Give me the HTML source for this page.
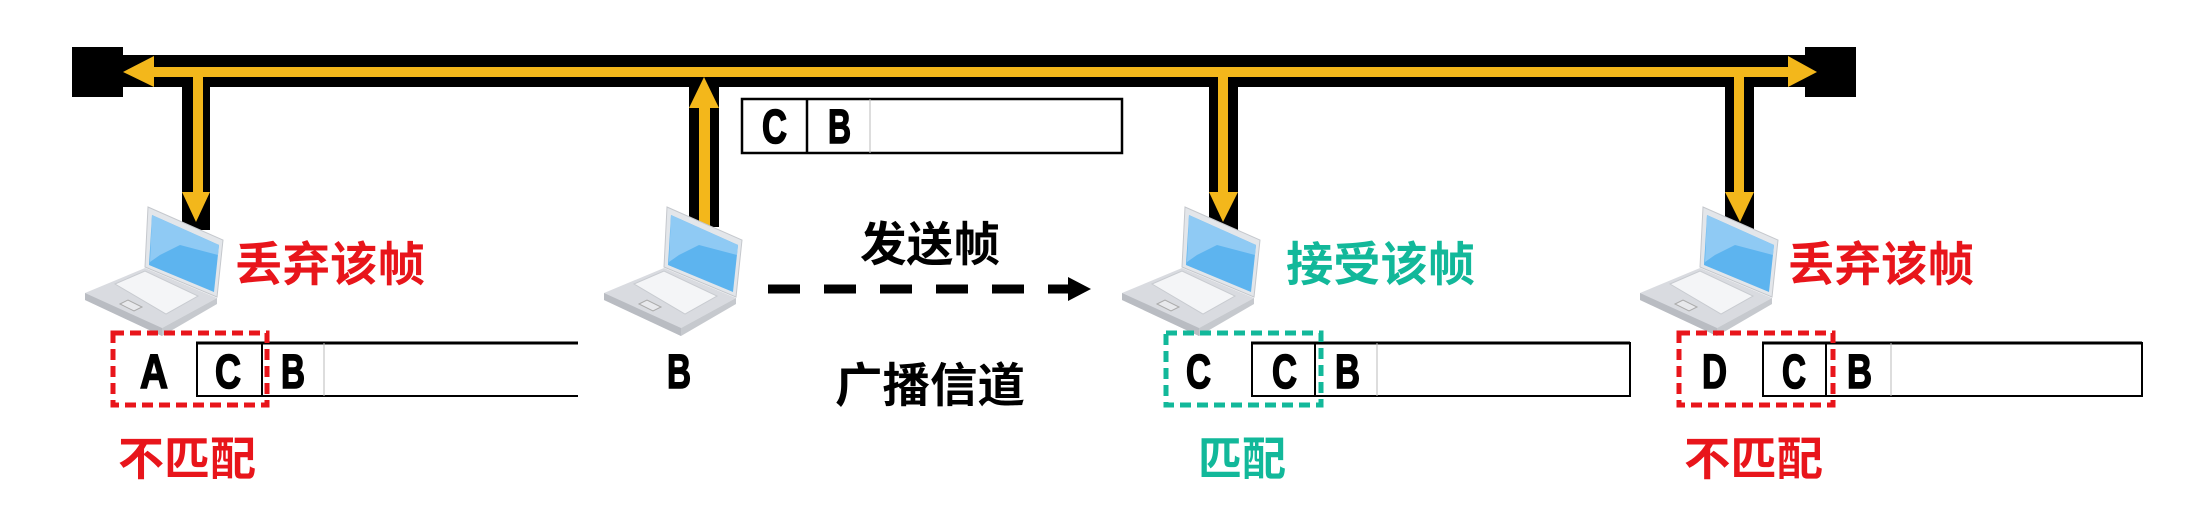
<!DOCTYPE html>
<html><head><meta charset="utf-8"><style>
html,body{margin:0;padding:0;background:#fff;}
svg{display:block;}
.l{font-family:"Liberation Sans",sans-serif;font-weight:bold;font-size:48px;fill:#000;stroke:#000;stroke-width:1.6;}
.cj{font-family:"Liberation Sans","Noto Sans CJK SC",sans-serif;font-weight:bold;}
</style></head><body>
<svg width="2204" height="524" viewBox="0 0 2204 524" xmlns="http://www.w3.org/2000/svg">
<defs>
<g id="lap">
  <polygon points="5,93 65,68 137,98 82,128 82,136 5,100" fill="#d9dbe0"/>
  <polygon points="5,93 82,128 82,136 5,100" fill="#b9bcc2"/>
  <polygon points="82,128 137,98 137,104 82,136" fill="#c6c9ce"/>
  <polygon points="35,84 65,71 118,96 86,114" fill="#f4f5f7" stroke="#c8cbd0" stroke-width="1"/>
  <polygon points="40,104 48,100 62,107 54,111" fill="#e8e9ec" stroke="#aaa" stroke-width="1"/>
  <polygon points="68,7 143,40 137,97 65,67" fill="#e3e6ea" stroke="#c5c8cd" stroke-width="1"/>
  <polygon points="72,15 139,45 134,92 69,65" fill="#5db4ef"/>
  <polygon points="72,15 139,45 138,55 100,45 80,55 70,62" fill="#8fcaf4"/>
</g>
</defs>

<rect x="72" y="47" width="51" height="50" fill="#000"/>
<rect x="1805" y="47" width="51" height="50" fill="#000"/>
<rect x="123" y="55" width="1682" height="32" fill="#000"/>
<rect x="154" y="67" width="1634" height="10" fill="#F3B71B"/>
<polygon points="123,72 154,56 154,87" fill="#F3B71B"/>
<polygon points="1817,72 1788,56 1788,87" fill="#F3B71B"/>

<rect x="182" y="87" width="28" height="143" fill="#000"/>
<rect x="193" y="72" width="10" height="122" fill="#F3B71B"/>
<polygon points="182,192 210,192 196,222" fill="#F3B71B"/>

<rect x="1209" y="87" width="29" height="143" fill="#000"/>
<rect x="1218" y="72" width="10" height="122" fill="#F3B71B"/>
<polygon points="1209,192 1238,192 1223,222" fill="#F3B71B"/>

<rect x="1725" y="87" width="29" height="143" fill="#000"/>
<rect x="1734" y="72" width="10" height="122" fill="#F3B71B"/>
<polygon points="1725,192 1754,192 1740,222" fill="#F3B71B"/>

<rect x="689" y="87" width="30" height="140" fill="#000"/>
<rect x="699" y="100" width="11" height="127" fill="#F3B71B"/>
<polygon points="689,108 719,108 704,77" fill="#F3B71B"/>

<use href="#lap" x="80" y="200"/>
<use href="#lap" x="599" y="200"/>
<use href="#lap" x="1117" y="200"/>
<use href="#lap" x="1635" y="200"/>

<rect x="742" y="99" width="380" height="54" fill="none" stroke="#000" stroke-width="2.5"/>
<line x1="807" y1="99" x2="807" y2="153" stroke="#000" stroke-width="2.5"/>
<line x1="870" y1="99" x2="870" y2="153" stroke="#bbb" stroke-width="1"/>
<text class="l" x="762" y="143" textLength="25" lengthAdjust="spacingAndGlyphs">C</text>
<text class="l" x="828" y="143" textLength="23" lengthAdjust="spacingAndGlyphs">B</text>

<line x1="196" y1="343" x2="578" y2="343" stroke="#000" stroke-width="3"/>
<line x1="196" y1="396" x2="578" y2="396" stroke="#000" stroke-width="2"/>
<rect x="197" y="343" width="65" height="53" fill="none" stroke="#000" stroke-width="2"/>
<line x1="324" y1="343" x2="324" y2="396" stroke="#bbb" stroke-width="1"/>
<rect x="113" y="333" width="154" height="72" fill="none" stroke="#E8151B" stroke-width="5" stroke-dasharray="11 6"/>
<text class="l" x="140" y="388" textLength="28" lengthAdjust="spacingAndGlyphs">A</text>
<text class="l" x="215" y="388" textLength="26" lengthAdjust="spacingAndGlyphs">C</text>
<text class="l" x="281" y="388" textLength="24" lengthAdjust="spacingAndGlyphs">B</text>

<line x1="1251" y1="343" x2="1630" y2="343" stroke="#000" stroke-width="3"/>
<line x1="1251" y1="396" x2="1630" y2="396" stroke="#000" stroke-width="2"/>
<line x1="1630" y1="342" x2="1630" y2="397" stroke="#000" stroke-width="2"/>
<rect x="1252" y="343" width="63" height="53" fill="none" stroke="#000" stroke-width="2"/>
<line x1="1377" y1="343" x2="1377" y2="396" stroke="#bbb" stroke-width="1"/>
<rect x="1166" y="333" width="155" height="72" fill="none" stroke="#12B89A" stroke-width="5" stroke-dasharray="11 6"/>
<text class="l" x="1186" y="388" textLength="25" lengthAdjust="spacingAndGlyphs">C</text>
<text class="l" x="1272" y="388" textLength="25" lengthAdjust="spacingAndGlyphs">C</text>
<text class="l" x="1335" y="388" textLength="25" lengthAdjust="spacingAndGlyphs">B</text>

<line x1="1762" y1="343" x2="2142" y2="343" stroke="#000" stroke-width="3"/>
<line x1="1762" y1="396" x2="2142" y2="396" stroke="#000" stroke-width="2"/>
<line x1="2142" y1="342" x2="2142" y2="397" stroke="#000" stroke-width="2"/>
<rect x="1763" y="343" width="63" height="53" fill="none" stroke="#000" stroke-width="2"/>
<line x1="1891" y1="343" x2="1891" y2="396" stroke="#bbb" stroke-width="1"/>
<rect x="1679" y="333" width="154" height="72" fill="none" stroke="#E8151B" stroke-width="5" stroke-dasharray="11 6"/>
<text class="l" x="1702" y="388" textLength="25" lengthAdjust="spacingAndGlyphs">D</text>
<text class="l" x="1782" y="388" textLength="24" lengthAdjust="spacingAndGlyphs">C</text>
<text class="l" x="1847" y="388" textLength="25" lengthAdjust="spacingAndGlyphs">B</text>

<text class="l" x="667" y="388" textLength="24" lengthAdjust="spacingAndGlyphs">B</text>

<line x1="768" y1="289" x2="1070" y2="289" stroke="#000" stroke-width="9" stroke-dasharray="32 24"/>
<polygon points="1068,277 1091,289 1068,301" fill="#000"/>

<text class="cj" x="235" y="281" font-size="47" fill="#E8151B" textLength="190" lengthAdjust="spacingAndGlyphs">丢弃该帧</text>
<text class="cj" x="1286" y="281" font-size="47" fill="#12B89A" textLength="189" lengthAdjust="spacingAndGlyphs">接受该帧</text>
<text class="cj" x="1788" y="281" font-size="47" fill="#E8151B" textLength="186" lengthAdjust="spacingAndGlyphs">丢弃该帧</text>
<text class="cj" x="860" y="261" font-size="47" fill="#000" textLength="140" lengthAdjust="spacingAndGlyphs">发送帧</text>
<text class="cj" x="835" y="402" font-size="47" fill="#000" textLength="190" lengthAdjust="spacingAndGlyphs">广播信道</text>
<text class="cj" x="118" y="475" font-size="46" fill="#E8151B" textLength="138" lengthAdjust="spacingAndGlyphs">不匹配</text>
<text class="cj" x="1198" y="475" font-size="46" fill="#12B89A" textLength="88" lengthAdjust="spacingAndGlyphs">匹配</text>
<text class="cj" x="1684" y="475" font-size="46" fill="#E8151B" textLength="139" lengthAdjust="spacingAndGlyphs">不匹配</text>
</svg>
</body></html>
